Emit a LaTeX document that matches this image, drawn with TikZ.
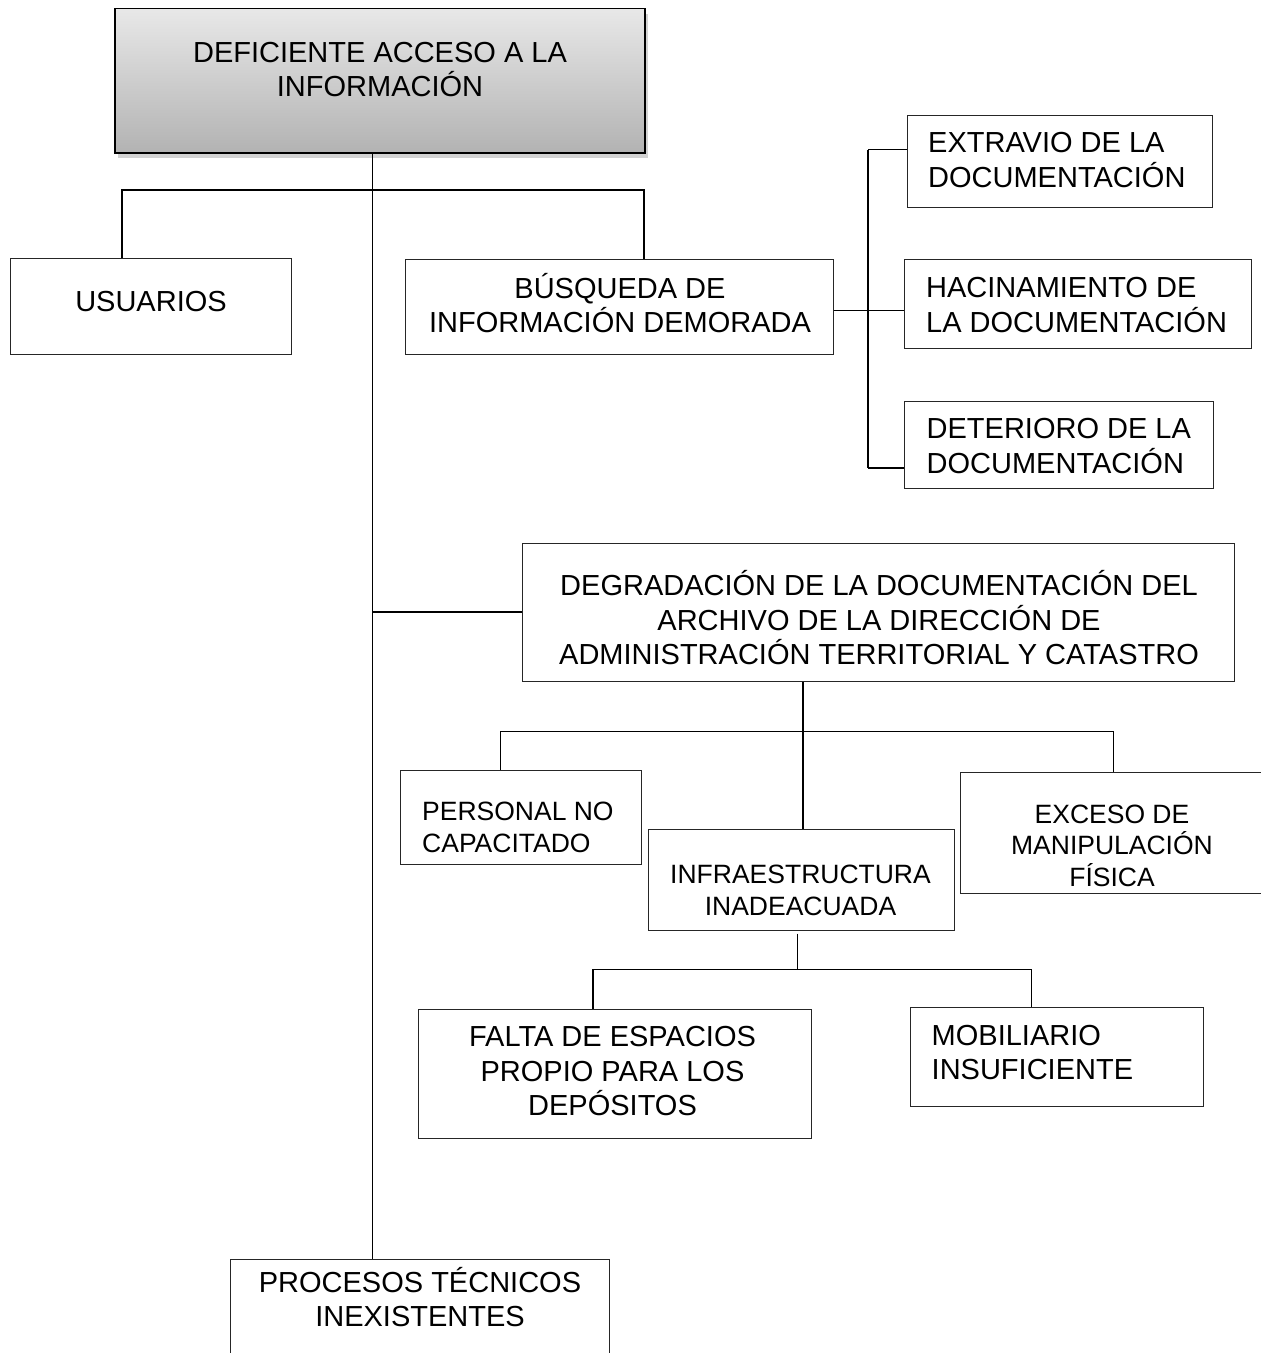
\documentclass[tikz,border=0pt]{standalone}
\usepackage{fontspec}
\setmainfont{Liberation Sans}
\usetikzlibrary{shadows}
\begin{document}
\begin{tikzpicture}[x=1pt, y=-1pt,
		caja/.style={draw=black!85, line width=1pt, inner sep=0pt},
		texto/.style={inner sep=0pt, text depth=0pt, font=\fontsize{29}{34.5}\selectfont},
		textochico/.style={texto, font=\fontsize{26.5}{31.6}\selectfont},
		linea/.style={line width=1.8pt}]
			\useasboundingbox (0,0) rectangle (1261,1353);
			\clip (0,0) rectangle (1261,1353);
			\node[caja, draw=black, line width=1.6pt, top color=black!9, bottom color=black!30, drop shadow={opacity=0.35, shadow xshift=3pt, shadow yshift=-5pt}, minimum width=530, minimum height=144.5] (def) at (380,80.75) {};
			\node[caja, minimum width=280.2, minimum height=95.7] (usu) at (150.9,306.15) {};
			\node[caja, minimum width=428.4, minimum height=94.7] (bus) at (619.6,306.65) {};
			\node[caja, minimum width=305, minimum height=92.3] (extr) at (1059.8,161.15) {};
			\node[caja, minimum width=346.7, minimum height=89] (haci) at (1077.65,303.8) {};
			\node[caja, minimum width=309, minimum height=87.3] (dete) at (1058.8,444.65) {};
			\node[caja, minimum width=712, minimum height=138.5] (deg) at (878,612.25) {};
			\node[caja, minimum width=241, minimum height=94] (pers) at (520.5,817) {};
			\node[caja, minimum width=306, minimum height=100.5] (infra) at (801,879.75) {};
			\node[caja, minimum width=320, minimum height=121.5] (exc) at (1120,832.75) {};
			\node[caja, minimum width=393.2, minimum height=128.5] (falta) at (614.9,1073.75) {};
			\node[caja, minimum width=293, minimum height=98.7] (mob) at (1056.5,1056.65) {};
			\node[caja, minimum width=378.5, minimum height=141] (proc) at (419.75,1329.5) {};

			\node[texto, align=center, anchor=south] (def-t) at (380,96.7) {DEFICIENTE ACCESO A LA\\INFORMACIÓN};
			\node[texto, anchor=south] (usu-t) at (151,311.7) {USUARIOS};
			\node[texto, align=center, anchor=south] (bus-t) at (620,332.7) {BÚSQUEDA DE\\INFORMACIÓN DEMORADA};
			\node[texto, align=left, anchor=south west] (extr-t) at (928,187.3) {EXTRAVIO DE LA\\DOCUMENTACIÓN};
			\node[texto, align=left, anchor=south west] (haci-t) at (926,332.3) {HACINAMIENTO DE\\LA DOCUMENTACIÓN};
			\node[texto, align=left, anchor=south west] (dete-t) at (926.5,473.3) {DETERIORO DE LA\\DOCUMENTACIÓN};
			\node[texto, align=center, anchor=south] (deg-t) at (879,665) {DEGRADACIÓN DE LA DOCUMENTACIÓN DEL\\ARCHIVO DE LA DIRECCIÓN DE\\ADMINISTRACIÓN TERRITORIAL Y CATASTRO};
			\node[textochico, align=left, anchor=south west] (pers-t) at (422,852.3) {PERSONAL NO\\CAPACITADO};
			\node[textochico, align=center, anchor=south] (infra-t) at (800.5,915.3) {INFRAESTRUCTURA\\INADEACUADA};
			\node[textochico, align=center, anchor=south] (exc-t) at (1112,886.7) {EXCESO DE\\MANIPULACIÓN\\FÍSICA};
			\node[texto, align=center, anchor=south] (falta-t) at (612.5,1115.7) {FALTA DE ESPACIOS\\PROPIO PARA LOS\\DEPÓSITOS};
			\node[texto, align=left, anchor=south west] (mob-t) at (931.5,1080) {MOBILIARIO\\INSUFICIENTE};
			\node[texto, align=center, anchor=south] (proc-t) at (420,1326.7) {PROCESOS TÉCNICOS\\INEXISTENTES};

			\coordinate (eje) at (372.5,0);
			\coordinate (r1) at (122,190);
			\coordinate (r2) at (644,190);
			\coordinate (e1) at (868.3,149.5);
			\coordinate (e2) at (868.3,310.5);
			\coordinate (e3) at (868.3,468.3);
			\coordinate (d0) at (500.5,731.5);
			\coordinate (d1) at (803,731.5);
			\coordinate (d2) at (1113.5,731.5);
			\coordinate (i0) at (593,969.5);
			\coordinate (i1) at (797.5,969.5);
			\coordinate (i2) at (1031.5,969.5);

			\draw[linea] (def.south -| eje) -- (proc.north -| eje);
			\draw[linea] (usu.north -| r1) -- (r1) -- (r2) -- (bus.north -| r2);
			\draw[linea] (bus.east |- e2) -- (e2);
			\draw[linea] (e1) -- (e3);
			\draw[linea] (e1) -- (extr.west |- e1);
			\draw[linea] (e2) -- (haci.west |- e2);
			\draw[linea] (e3) -- (dete.west |- e3);
			\draw[linea] (deg.west -| eje) -- (deg.west);
			\draw[linea] (deg.south -| d1) -- (infra.north -| d1);
			\draw[linea] (pers.north -| d0) -- (d0) -- (d2) -- (exc.north -| d2);
			\draw[linea, shorten <=3pt] (infra.south -| i1) -- (i1);
			\draw[linea] (falta.north -| i0) -- (i0) -- (i2) -- (mob.north -| i2);
		\end{tikzpicture}
\end{document}
